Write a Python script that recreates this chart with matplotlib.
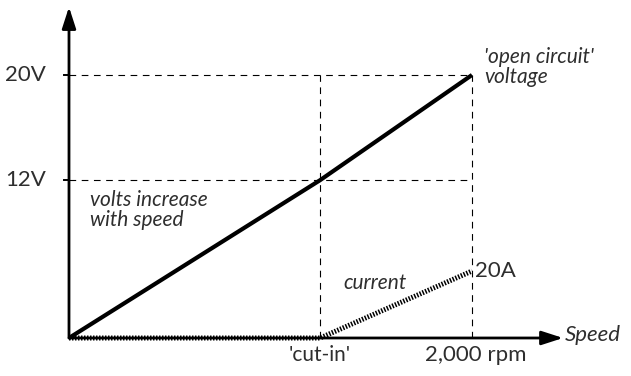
import matplotlib
matplotlib.use("Agg")
import matplotlib.pyplot as plt

# Data
speed = [0, 1246, 2000]          # rpm; 1246 ~ 'cut-in'
volts = [0, 12, 20]              # open circuit voltage rises with speed
current = [0, 0, 20]             # amps: nothing until cut-in, then 20A at 2000 rpm
cut_in = speed[1]
top_speed = speed[2]
volt_ticks = [12, 20]
volt_labels = ["12V", "20V"]

plt.rcParams["font.family"] = ["Lato", "DejaVu Sans"]
TXT = "#2e2e2e"
W = "normal"

fig = plt.figure(figsize=(6.31, 3.76), dpi=100)
ax = fig.add_axes([0, 0, 1, 1])
ax.set_xlim(-342.4, 2789)
ax.set_ylim(-2.89, 25.70)
ax.axis("off")

# second scale for the current (20A sits lower than 20V)
ax2 = ax.twinx()
ax2.set_ylim(-11.34, 100.9)
ax2.axis("off")

# guide lines
for v in volt_ticks:
    ax.plot([0, top_speed], [v, v], color="black", lw=0.8, ls=(0, (6, 5)), zorder=1)
    ax.plot([-25, 0], [v, v], color="black", lw=1.4, zorder=3)
for s in (cut_in, top_speed):
    ax.plot([s, s], [0, volts[2]], color="black", lw=0.8, ls=(0, (6, 5)), zorder=1)

# axes with arrows
arrow = dict(arrowstyle="-|>,head_length=1.3,head_width=0.42",
             color="black", lw=2.0, shrinkA=0, shrinkB=0)
ax.annotate("", xy=(0, 25.17), xytext=(0, 0), arrowprops=arrow)
ax.annotate("", xy=(2452, 0), xytext=(0, 0), arrowprops=arrow)

# voltage and current lines
ax.plot(speed, volts, color="black", lw=3.0, solid_capstyle="butt", zorder=4)
ax2.plot(speed, current, color="black", lw=3.6, ls=(0, (0.3, 0.3)),
         dash_capstyle="butt", zorder=5)

# labels
for v, lab in zip(volt_ticks, volt_labels):
    ax.text(-318, v, lab, ha="left", va="center", fontsize=16,
            fontweight=W, color=TXT)

ax.text(2060, 20.6, "'open circuit'\nvoltage", ha="left", va="center",
        fontsize=15, style="italic", fontweight=W, color=TXT,
        linespacing=0.95)
ax.text(104, 9.7, "volts increase\nwith speed", ha="left", va="center",
        fontsize=15, style="italic", fontweight=W, color=TXT,
        linespacing=1.0)
ax.text(1360, 4.2, "current", ha="left", va="center", fontsize=15,
        style="italic", fontweight=W, color=TXT)
ax2.text(2015, 20, "20A", ha="left", va="center", fontsize=16,
         fontweight=W, color=TXT)
ax.text(cut_in, -1.3, "'cut-in'", ha="center", va="center", fontsize=15,
        fontweight=W, color=TXT)
ax.text(1767, -1.3, "2,000 rpm", ha="left", va="center", fontsize=16,
        fontweight=W, color=TXT)
ax.text(2461, 0.2, "Speed", ha="left", va="center", fontsize=16,
        style="italic", fontweight=W, color=TXT)

fig.savefig("out.png", dpi=100)
